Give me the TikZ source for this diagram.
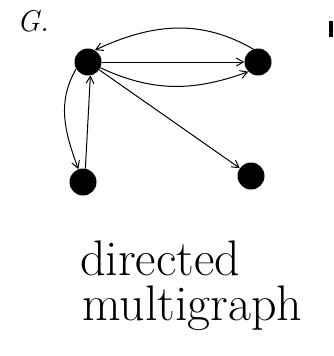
\documentclass[tikz,border=0pt]{standalone}
\usepackage{fontspec}
\usetikzlibrary{arrows.meta}
\begin{document}
\begin{tikzpicture}[x=1pt,y=-1pt,
  vertex/.style={circle,fill=black,inner sep=0pt,minimum size=27pt},
  edge/.style={line width=1pt,-{Straight Barb[length=7pt,width=8pt]}},
  hand/.style={font=\fontsize{50}{52}\selectfont,inner sep=0pt,anchor=base west},
  tag/.style={font=\fontsize{30}{32}\selectfont\itshape,inner sep=0pt,anchor=base west}]
  \useasboundingbox (0,0) rectangle (333,356);
  % vertices
  \node[vertex] (a) at (88,62) {};
  \node[vertex] (b) at (258,62) {};
  \node[vertex] (c) at (83,182) {};
  \node[vertex] (d) at (251,176) {};
  % labels
  \node[tag] (g) at (17,31) {G.};
  \node[hand] (t1) at (80,275) {directed};
  \node[hand] (t2) at (82,320) {multigraph};
  % stroke at the right edge
  \draw[line width=3.5pt] (331,21) -- (331,37);
  % edges
  \draw[edge] (b.110) to[out=150,in=25] (a.60);
  \draw[edge] (a) -- (b);
  \draw[edge] (a.-25) to[out=-25,in=-160] (b.-135);
  \draw[edge] (a) -- (d);
  \draw[edge] (a.-150) to[out=-120,in=110] (c.110);
  \draw[edge] (c.80) -- (a.-80);
\end{tikzpicture}
\end{document}
